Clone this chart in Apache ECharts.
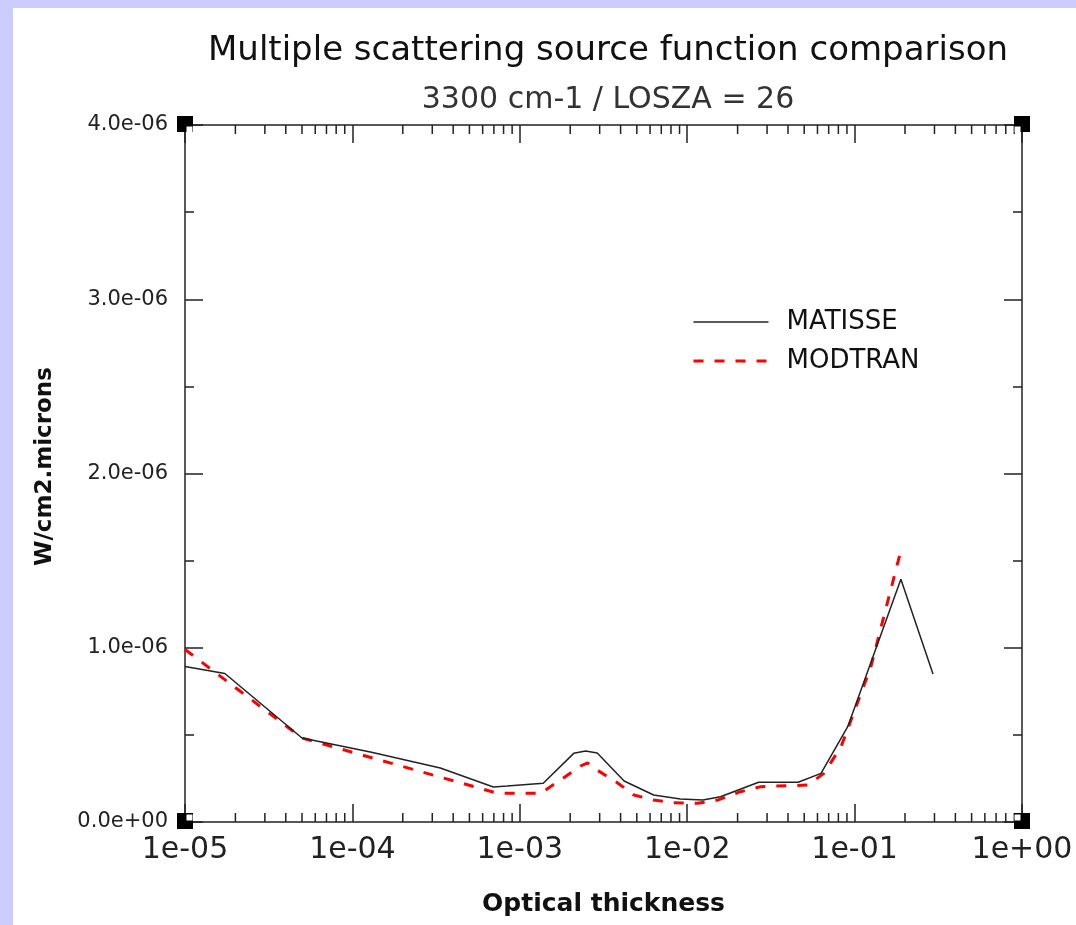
<!DOCTYPE html>
<html>
<head>
<meta charset="utf-8">
<script src="https://cdn.jsdelivr.net/npm/echarts@6/dist/echarts.min.js"></script>
<style>
  html, body { margin: 0; padding: 0; background: #ccccff; width: 1076px; height: 925px; overflow: hidden; }
  #chart { position: absolute; left: 13px; top: 8px; width: 1063px; height: 917px; background: #ffffff; }
</style>
</head>
<body>
<div id="chart"></div>
<script>
// Optical thickness (tau) and multiple scattering source function (W/cm2.microns)
const matisseTau = [1.0e-5, 1.73e-5, 5.0e-5, 1.28e-4, 3.35e-4, 6.95e-4, 8.4e-4, 1.38e-3, 2.1e-3, 2.47e-3, 2.9e-3,
                    4.2e-3, 6.3e-3, 9.1e-3, 1.24e-2, 1.58e-2, 2.67e-2, 4.6e-2, 6.3e-2, 9.1e-2, 0.189, 0.294];
const matisseSrc = [8.92e-7, 8.52e-7, 4.82e-7, 4.02e-7, 3.10e-7, 2.01e-7, 2.06e-7, 2.22e-7, 3.94e-7, 4.07e-7, 3.96e-7,
                    2.35e-7, 1.55e-7, 1.32e-7, 1.26e-7, 1.45e-7, 2.28e-7, 2.28e-7, 2.79e-7, 5.47e-7, 1.393e-6, 8.49e-7];

const modtranTau = [1.0e-5, 5.0e-5, 7.35e-4, 1.33e-3, 1.75e-3, 2.3e-3, 2.54e-3, 2.9e-3, 3.84e-3, 4.8e-3, 6.3e-3,
                    8.3e-3, 1.15e-2, 1.52e-2, 2.08e-2, 2.75e-2, 5.25e-2, 6.55e-2, 8.3e-2, 0.125, 0.186];
const modtranSrc = [9.90e-7, 4.82e-7, 1.65e-7, 1.65e-7, 2.41e-7, 3.21e-7, 3.39e-7, 2.98e-7, 2.24e-7, 1.55e-7, 1.26e-7,
                    1.11e-7, 1.07e-7, 1.26e-7, 1.74e-7, 2.03e-7, 2.12e-7, 2.79e-7, 4.32e-7, 8.90e-7, 1.532e-6];

const xTickLabels = ['1e-05', '1e-04', '1e-03', '1e-02', '1e-01', '1e+00'];
const yTickLabels = ['0.0e+00', '1.0e-06', '2.0e-06', '3.0e-06', '4.0e-06'];

const X_MIN = 1e-5, X_MAX = 1, Y_MIN = 0, Y_MAX = 4e-6, Y_STEP = 1e-6;
const FONT = 'DejaVu Sans';
const INK = '#222222';
const RED = '#ff0000';
const RED_DASH = [10, 11];

// log-axis minor ticks at 2..9 x 10^k inside each decade
const minorTau = [];
for (let k = -5; k < 0; k++) {
  for (let m = 2; m <= 9; m++) minorTau.push([m * Math.pow(10, k)]);
}

const pairs = (xs, ys) => xs.map((x, i) => [x, ys[i]]);

const axisLineStyle = { color: INK, width: 1.5 };

const baseX = {
  type: 'log', logBase: 10, min: X_MIN, max: X_MAX, splitNumber: 5,
  axisLine: { show: true, onZero: false, lineStyle: axisLineStyle },
  axisTick: { show: true, inside: true, length: 18, lineStyle: axisLineStyle },
  minorTick: { show: false },
  splitLine: { show: false }
};
const baseY = {
  type: 'value', min: Y_MIN, max: Y_MAX, interval: Y_STEP,
  axisLine: { show: true, onZero: false, lineStyle: axisLineStyle },
  axisTick: { show: true, inside: true, length: 18, lineStyle: axisLineStyle },
  minorTick: { show: true, splitNumber: 2, length: 9, lineStyle: axisLineStyle },
  splitLine: { show: false }, minorSplitLine: { show: false }
};

const option = {
  animation: false,
  backgroundColor: '#ffffff',
  title: [
    {
      text: 'Multiple scattering source function comparison',
      left: 590, top: 21, textAlign: 'center',
      textStyle: { fontFamily: FONT, fontSize: 34, fontWeight: 'normal', color: '#111' }
    },
    {
      text: '3300 cm-1 / LOSZA = 26',
      left: 590, top: 72, textAlign: 'center',
      textStyle: { fontFamily: FONT, fontSize: 30, fontWeight: 'normal', color: '#333' }
    }
  ],
  legend: {
    data: [
      { name: 'MATISSE', lineStyle: { color: INK, width: 1.5, type: 'solid', opacity: 1 } },
      { name: 'MODTRAN', lineStyle: { color: RED, width: 3, type: RED_DASH, opacity: 1 } }
    ],
    orient: 'vertical', left: 674, top: 296,
    itemWidth: 75, itemHeight: 14, itemGap: 13,
    itemStyle: { opacity: 0 },
    textStyle: { fontFamily: FONT, fontSize: 26, color: '#111', padding: [0, 0, 0, 13] }
  },
  grid: { left: 172, top: 117, right: 54, bottom: 103, containLabel: false },
  xAxis: [
    Object.assign({}, baseX, {
      position: 'bottom',
      axisLabel: {
        show: true, margin: 13, fontFamily: FONT, fontSize: 30, color: '#222',
        formatter: v => xTickLabels[Math.round(Math.log10(v)) + 5]
      },
      name: 'Optical thickness', nameLocation: 'middle', nameGap: 70,
      nameTextStyle: { fontFamily: FONT, fontSize: 25, fontWeight: 'bold', color: '#111' }
    }),
    Object.assign({}, baseX, { position: 'top', axisLabel: { show: false } })
  ],
  yAxis: [
    Object.assign({}, baseY, {
      position: 'left',
      axisLabel: {
        show: true, margin: 17, fontFamily: FONT, fontSize: 21, color: '#222',
        formatter: v => yTickLabels[Math.round(v / Y_STEP)]
      },
      name: 'W/cm2.microns', nameLocation: 'middle', nameGap: 128, nameRotate: 90,
      nameTextStyle: { fontFamily: FONT, fontSize: 23, fontWeight: 'bold', color: '#111', padding: [0, 0, 0, 14] }
    }),
    Object.assign({}, baseY, { position: 'right', axisLabel: { show: false } })
  ],
  series: [
    {
      name: 'MATISSE', type: 'line', xAxisIndex: 0, yAxisIndex: 0,
      data: pairs(matisseTau, matisseSrc),
      symbol: 'none', smooth: false,
      lineStyle: { color: INK, width: 1.5 },
      itemStyle: { color: INK }, z: 3
    },
    {
      name: 'MODTRAN', type: 'line', xAxisIndex: 0, yAxisIndex: 0,
      data: pairs(modtranTau, modtranSrc),
      symbol: 'none', smooth: false,
      lineStyle: { color: RED, width: 3, type: RED_DASH },
      itemStyle: { color: RED }, z: 2
    },
    {
      // minor ticks of the log x axis, on the bottom and top frame edges
      type: 'custom', silent: true, xAxisIndex: 0, yAxisIndex: 0, clip: false,
      data: minorTau,
      renderItem: (params, api) => {
        const x = api.value(0);
        const b = api.coord([x, Y_MIN]);
        const t = api.coord([x, Y_MAX]);
        const style = { stroke: INK, lineWidth: 1.5 };
        return {
          type: 'group',
          children: [
            { type: 'line', shape: { x1: b[0], y1: b[1], x2: b[0], y2: b[1] - 9 }, style },
            { type: 'line', shape: { x1: t[0], y1: t[1], x2: t[0], y2: t[1] + 9 }, style }
          ]
        };
      },
      z: 1
    },
    {
      // frame corner markers
      type: 'custom', silent: true, xAxisIndex: 0, yAxisIndex: 0, clip: false,
      data: [[X_MIN, Y_MIN, 1, -1], [X_MAX, Y_MIN, -1, -1], [X_MIN, Y_MAX, 1, 1], [X_MAX, Y_MAX, -1, 1]],
      renderItem: (params, api) => {
        const p = api.coord([api.value(0), api.value(1)]);
        const sx = api.value(2), sy = api.value(3);
        const s = 16, w = 6;
        const wx = sx > 0 ? p[0] + 1.5 : p[0] - 1.5 - w;
        const wy = sy > 0 ? p[1] + 1.5 : p[1] - 1.5 - w;
        return {
          type: 'group',
          children: [
            { type: 'rect', shape: { x: p[0] - s / 2, y: p[1] - s / 2 - 1, width: s, height: s }, style: { fill: '#000' } },
            { type: 'rect', shape: { x: wx, y: wy, width: w, height: w }, style: { fill: '#fff' } }
          ]
        };
      },
      z: 4
    }
  ]
};

const chart = echarts.init(document.getElementById('chart'), null, { renderer: 'canvas' });
chart.setOption(option);
</script>
</body>
</html>
